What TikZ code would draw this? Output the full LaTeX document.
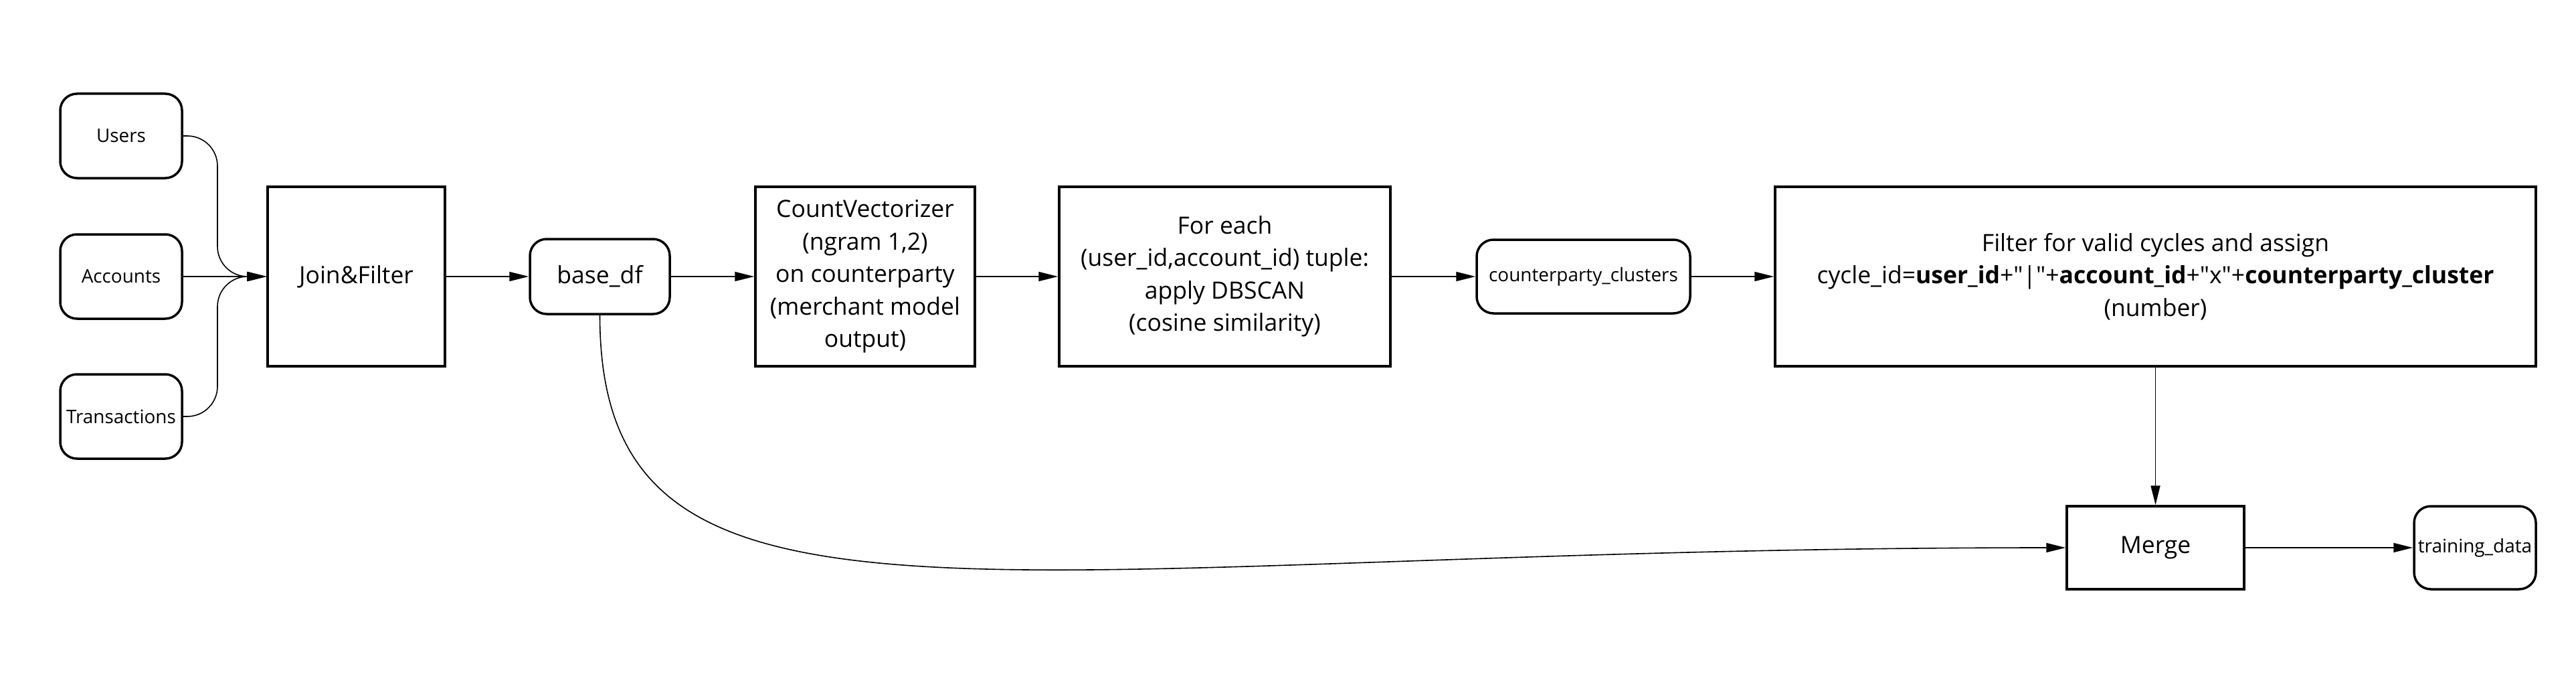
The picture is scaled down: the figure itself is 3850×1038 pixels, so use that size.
\documentclass[tikz,border=0pt]{standalone}
\usepackage{fontspec}
\setmainfont{Open Sans}[Ligatures=TeXOff]
\usetikzlibrary{arrows.meta}
\newcommand\mainsz{\fontsize{35.5}{48.5}\selectfont}
\newcommand\smallsz{\fontsize{27.9}{38}\selectfont}
\newcommand\dq{\symbol{34}}
\tikzset{
  box/.style={draw=black, line width=3.5pt, inner sep=0pt, align=center, font=\mainsz},
  rbox/.style={box, rounded corners=25pt},
  conn/.style={draw=black, line width=1.6pt, -{Triangle[length=29pt,width=14pt]}},
}
\begin{document}
\begin{tikzpicture}[x=1pt,y=-1pt]
\useasboundingbox (0,0) rectangle (3850,1038);
% inputs
\node[rbox, font=\smallsz, minimum width=182pt, minimum height=126pt] (u) at (181,203) {Users};
\node[rbox, font=\smallsz, minimum width=182pt, minimum height=126pt] (a) at (181,413) {Accounts};
\node[rbox, font=\smallsz, minimum width=182pt, minimum height=126pt] (t) at (181,622) {Transactions};
% pipeline
\node[box, minimum width=265pt, minimum height=268pt] (jf) at (532.5,413) {Join\&Filter};
\node[rbox, minimum width=209pt, minimum height=112pt] (bdf) at (896.5,413) {base\_df};
\node[box, minimum width=328pt, minimum height=268pt] (cv) at (1293,413) {CountVectorizer\\(ngram 1,2)\\on counterparty\\(merchant model\\output)};
\node[box, minimum width=495pt, minimum height=268pt] (db) at (1830.5,413) {For each\\(user\_id,account\_id) tuple:\\apply DBSCAN\\(cosine similarity)};
\node[rbox, font=\smallsz, minimum width=319pt, minimum height=110pt] (cc) at (2366.5,413) {counterparty\_clusters};
\node[box, minimum width=1137pt, minimum height=268pt] (flt) at (3221.5,413) {Filter for valid cycles and assign\\cycle\_id=\textbf{user\_id}+\dq|\dq+\textbf{account\_id}+\dq x\dq+\textbf{counterparty\_cluster}\\(number)};
\node[box, minimum width=265pt, minimum height=124pt] (mg) at (3221.5,818) {Merge};
\node[rbox, font=\smallsz, minimum width=182pt, minimum height=124pt] (td) at (3699,818) {training\_data};
% waypoints
\coordinate (m1) at (325,300);
\coordinate (m2) at (325,520);
% connectors
\draw[conn, rounded corners=45pt] (u.east) -| (m1) |- (jf.west);
\draw[conn] (a.east) -- (jf.west);
\draw[conn, rounded corners=45pt] (t.east) -| (m2) |- (jf.west);
\draw[conn] (jf.east) -- (bdf.west);
\draw[conn] (bdf.east) -- (cv.west);
\draw[conn] (cv.east) -- (db.west);
\draw[conn] (db.east) -- (cc.west);
\draw[conn] (cc.east) -- (flt.west);
\draw[conn] (flt.south) -- (mg.north);
\draw[conn] (mg.east) -- (td.west);
\draw[conn] (bdf.south) .. controls (896.5,1010) and (1489,818) .. (mg.west);
\end{tikzpicture}
\end{document}
